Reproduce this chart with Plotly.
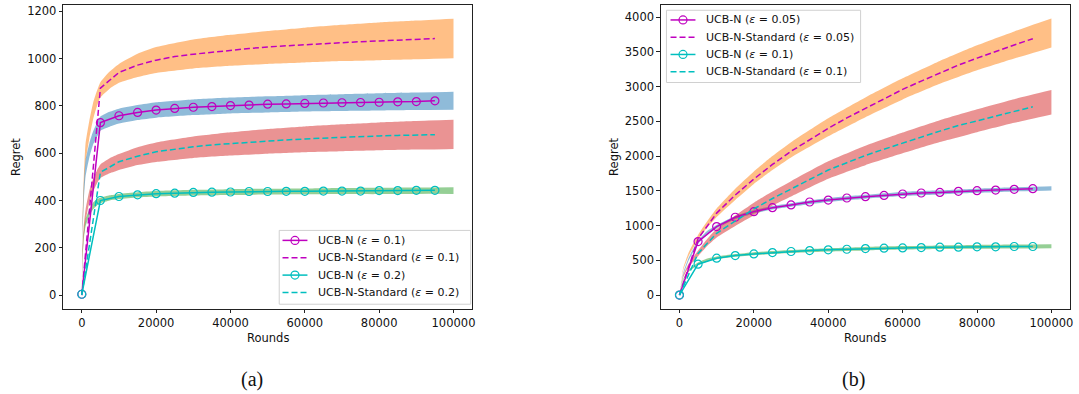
import plotly.graph_objects as go

# ---------------- data ----------------
rounds = [0, 5000, 10000, 15000, 20000, 25000, 30000, 35000, 40000, 45000,
          50000, 55000, 60000, 65000, 70000, 75000, 80000, 85000, 90000, 95000]

# panel (a)
a_ucbn_01 = [4, 729, 758, 772, 782, 789, 794, 797, 801, 803, 807, 808, 810, 812, 813, 814, 815, 817, 818, 821]
a_std_01 = [0, 875, 941, 972, 993, 1008, 1018, 1027, 1035, 1042, 1049, 1054, 1059, 1063, 1067, 1071, 1074, 1078, 1081, 1084]
a_ucbn_02 = [4, 400, 417, 424, 429, 431, 434, 435, 436, 438, 438, 439, 439, 440, 440, 440, 442, 442, 443, 443]
a_std_02 = [0, 519, 564, 587, 606, 617, 627, 635, 641, 647, 652, 656, 660, 664, 667, 670, 673, 675, 677, 678]

a_band_x = [0, 200, 500, 1000, 2000, 3000, 4000, 5000, 7500, 10000, 15000, 20000,
            30000, 40000, 50000, 60000, 70000, 80000, 90000, 100000]
a_orange_lo = [0, 250, 400, 560, 660, 740, 795, 835, 872, 897, 922, 939, 958, 969, 977, 983, 989, 993, 997, 1001]
a_orange_hi = [0, 320, 480, 640, 735, 810, 860, 900, 945, 977, 1020, 1048, 1080, 1100, 1116, 1130, 1142, 1152, 1160, 1168]
a_blue_lo = [0, 220, 390, 500, 580, 635, 665, 695, 712, 725, 740, 750, 761, 768, 772, 776, 778, 780, 782, 783]
a_blue_hi = [0, 290, 460, 570, 640, 690, 725, 755, 775, 788, 803, 815, 827, 835, 840, 845, 849, 853, 856, 859]
a_red_lo = [0, 150, 240, 310, 390, 435, 470, 495, 515, 529, 550, 563, 580, 590, 598, 604, 608, 612, 615, 618]
a_red_hi = [0, 200, 290, 360, 440, 490, 525, 552, 578, 596, 625, 645, 670, 688, 702, 713, 722, 730, 736, 741]
a_green_lo = [0, 150, 230, 290, 335, 362, 378, 388, 400, 406, 413, 417, 421, 423, 425, 426, 427, 427, 428, 428]
a_green_hi = [0, 180, 260, 320, 362, 390, 405, 412, 422, 428, 435, 440, 445, 448, 450, 451, 453, 454, 455, 456]

# panel (b)
b_ucbn_005 = [0, 770, 986, 1120, 1201, 1258, 1297, 1340, 1368, 1397, 1416, 1435, 1455, 1469, 1478, 1493, 1502, 1512, 1522, 1531]
b_std_005 = [0, 810, 1180, 1440, 1670, 1880, 2070, 2240, 2400, 2550, 2690, 2830, 2960, 3080, 3200, 3310, 3410, 3510, 3600, 3690]
b_ucbn_01 = [0, 445, 531, 569, 593, 612, 627, 641, 651, 660, 670, 675, 679, 684, 689, 689, 694, 694, 699, 699]
b_std_01 = [0, 600, 890, 1070, 1240, 1390, 1530, 1670, 1800, 1905, 2010, 2100, 2190, 2275, 2360, 2440, 2510, 2580, 2650, 2710]

b_band_x = [0, 1000, 2500, 5000, 7500, 10000, 15000, 20000, 25000, 30000,
            40000, 50000, 60000, 70000, 80000, 90000, 100000]
b_orange_lo = [0, 355, 565, 795, 975, 1125, 1370, 1600, 1800, 1980, 2285, 2560, 2815, 3040, 3235, 3405, 3565]
b_orange_hi = [0, 385, 615, 865, 1065, 1245, 1530, 1780, 2000, 2200, 2545, 2845, 3120, 3370, 3595, 3795, 3980]
b_red_lo = [0, 255, 405, 560, 710, 830, 995, 1150, 1290, 1420, 1675, 1870, 2040, 2202, 2345, 2480, 2600]
b_red_hi = [0, 285, 455, 640, 810, 950, 1145, 1330, 1490, 1640, 1925, 2150, 2340, 2518, 2675, 2820, 2950]
b_blue_lo = [0, 285, 500, 735, 875, 960, 1090, 1175, 1233, 1273, 1340, 1388, 1425, 1448, 1472, 1492, 1505]
b_blue_hi = [0, 315, 540, 785, 925, 1010, 1140, 1225, 1283, 1323, 1396, 1444, 1485, 1508, 1532, 1552, 1565]
b_green_lo = [0, 208, 335, 432, 485, 515, 550, 573, 590, 605, 627, 643, 655, 663, 667, 671, 675]
b_green_hi = [0, 232, 365, 468, 525, 555, 590, 617, 634, 649, 675, 693, 705, 715, 721, 727, 731]

x_ticks = [0, 20000, 40000, 60000, 80000, 100000]
a_y_ticks = [0, 200, 400, 600, 800, 1000, 1200]
b_y_ticks = [0, 500, 1000, 1500, 2000, 2500, 3000, 3500, 4000]

a_legend_names = ["UCB-N (<i>ε</i> = 0.1)", "UCB-N-Standard (<i>ε</i> = 0.1)",
                  "UCB-N (<i>ε</i> = 0.2)", "UCB-N-Standard (<i>ε</i> = 0.2)"]
b_legend_names = ["UCB-N (<i>ε</i> = 0.05)", "UCB-N-Standard (<i>ε</i> = 0.05)",
                  "UCB-N (<i>ε</i> = 0.1)", "UCB-N-Standard (<i>ε</i> = 0.1)"]

# ---------------- style ----------------
MAG = "#bf00bf"
CYA = "#00bfbf"
ORANGE = "rgba(255,127,14,0.5)"
BLUE = "rgba(31,119,180,0.5)"
RED = "rgba(214,39,40,0.5)"
GREEN = "rgba(44,160,44,0.5)"
FONT = "DejaVu Sans"
FS = 11.5
LFS = 11
DASH = "6px,3px"
W, H = 1079, 394

fig = go.Figure()


def band(x, lo, hi, color, xa, ya):
    fig.add_trace(go.Scatter(x=x, y=lo, mode="lines", line=dict(width=0, shape="spline", smoothing=0.5),
                             xaxis=xa, yaxis=ya, showlegend=False, hoverinfo="skip"))
    fig.add_trace(go.Scatter(x=x, y=hi, mode="lines", line=dict(width=0, shape="spline", smoothing=0.5),
                             fill="tonexty", fillcolor=color,
                             xaxis=xa, yaxis=ya, showlegend=False, hoverinfo="skip"))


def ucbn(y, color, name, xa, ya):
    fig.add_trace(go.Scatter(x=rounds, y=y, mode="lines+markers", name=name, showlegend=False,
                             line=dict(color=color, width=1.5),
                             marker=dict(symbol="circle-open", size=8, color=color, line=dict(width=1.2, color=color)),
                             xaxis=xa, yaxis=ya))


def std(y, color, name, xa, ya):
    fig.add_trace(go.Scatter(x=rounds, y=y, mode="lines", name=name, showlegend=False,
                             line=dict(color=color, width=1.5, dash=DASH),
                             xaxis=xa, yaxis=ya))


# panel (a)
band(a_band_x, a_orange_lo, a_orange_hi, ORANGE, "x", "y")
band(a_band_x, a_blue_lo, a_blue_hi, BLUE, "x", "y")
band(a_band_x, a_red_lo, a_red_hi, RED, "x", "y")
band(a_band_x, a_green_lo, a_green_hi, GREEN, "x", "y")
ucbn(a_ucbn_01, MAG, a_legend_names[0], "x", "y")
std(a_std_01, MAG, a_legend_names[1], "x", "y")
ucbn(a_ucbn_02, CYA, a_legend_names[2], "x", "y")
std(a_std_02, CYA, a_legend_names[3], "x", "y")

# panel (b)
band(b_band_x, b_orange_lo, b_orange_hi, ORANGE, "x2", "y2")
band(b_band_x, b_blue_lo, b_blue_hi, BLUE, "x2", "y2")
band(b_band_x, b_red_lo, b_red_hi, RED, "x2", "y2")
band(b_band_x, b_green_lo, b_green_hi, GREEN, "x2", "y2")
ucbn(b_ucbn_005, MAG, b_legend_names[0], "x2", "y2")
std(b_std_005, MAG, b_legend_names[1], "x2", "y2")
ucbn(b_ucbn_01, CYA, b_legend_names[2], "x2", "y2")
std(b_std_01, CYA, b_legend_names[3], "x2", "y2")

ytop, ybot = 1 - 4 / H, 1 - 308.7 / H

axis_common = dict(showline=True, mirror=True, linecolor="#222", linewidth=1,
                   ticks="outside", ticklen=3.5, tickwidth=1, tickcolor="#222",
                   showgrid=False, zeroline=False, tickformat="d",
                   tickfont=dict(family=FONT, size=FS, color="#111"))

fig.update_layout(
    width=W, height=H,
    margin=dict(l=0, r=0, t=0, b=0),
    paper_bgcolor="white", plot_bgcolor="white",
    showlegend=False,
    xaxis=dict(domain=[63.4 / W, 473.4 / W], range=[-5000, 105000], tickvals=x_ticks, anchor="y", **axis_common),
    yaxis=dict(domain=[ybot, ytop], range=[-58, 1226], tickvals=a_y_ticks, anchor="x", **axis_common),
    xaxis2=dict(domain=[662.7 / W, 1073 / W], range=[-5000, 105000], tickvals=x_ticks, anchor="y2", **axis_common),
    yaxis2=dict(domain=[ybot, ytop], range=[-199, 4175], tickvals=b_y_ticks, anchor="x2", **axis_common),
)

# ---------------- manual legends (pixel layout, paper coords) ----------------
shapes = []
annotations = []


def px(x):
    return x / W


def py(y):
    return 1 - y / H


def legend_box(x0, y0, x1, y1, rows, names, sample_x0):
    shapes.append(dict(type="rect", xref="paper", yref="paper", x0=px(x0), x1=px(x1), y0=py(y1), y1=py(y0),
                       fillcolor="rgba(255,255,255,0.8)", line=dict(color="#d0d0d0", width=1), layer="above"))
    styles = [(MAG, "solid", True), (MAG, DASH, False), (CYA, "solid", True), (CYA, DASH, False)]
    for ry, name, (col, dash, mk) in zip(rows, names, styles):
        sx0, sx1 = sample_x0, sample_x0 + 25
        shapes.append(dict(type="line", xref="paper", yref="paper", x0=px(sx0), x1=px(sx1), y0=py(ry), y1=py(ry),
                           line=dict(color=col, width=1.5, dash=dash), layer="above"))
        if mk:
            cx = (sx0 + sx1) / 2
            shapes.append(dict(type="circle", xref="paper", yref="paper", xsizemode="pixel", ysizemode="pixel",
                               xanchor=px(cx), yanchor=py(ry), x0=-4, x1=4, y0=-4, y1=4,
                               line=dict(color=col, width=1.2), fillcolor="rgba(0,0,0,0)", layer="above"))
        annotations.append(dict(text=name, x=px(sx1 + 8.5), y=py(ry), xref="paper", yref="paper",
                                showarrow=False, xanchor="left", yanchor="middle",
                                font=dict(family=FONT, size=LFS, color="#111")))


legend_box(280, 230, 472, 304, [240, 257.4, 274.8, 292.2], a_legend_names, 283.3)
legend_box(668.3, 9.3, 863, 81.7, [19, 36.3, 53.6, 70.9], b_legend_names, 672.4)

ann_font = dict(family=FONT, size=FS, color="#111")
annotations += [
    dict(text="Rounds", x=px(268.4), y=py(337.7), xref="paper", yref="paper",
         showarrow=False, font=ann_font, xanchor="center", yanchor="middle"),
    dict(text="Rounds", x=px(867.9), y=py(337.7), xref="paper", yref="paper",
         showarrow=False, font=ann_font, xanchor="center", yanchor="middle"),
    dict(text="Regret", x=px(15.5), y=py(156), xref="paper", yref="paper", textangle=-90,
         showarrow=False, font=ann_font, xanchor="center", yanchor="middle"),
    dict(text="Regret", x=px(615), y=py(156), xref="paper", yref="paper", textangle=-90,
         showarrow=False, font=ann_font, xanchor="center", yanchor="middle"),
    dict(text="(a)", x=px(253), y=py(379), xref="paper", yref="paper",
         showarrow=False, font=dict(family="Liberation Serif", size=20, color="#111"),
         xanchor="center", yanchor="middle"),
    dict(text="(b)", x=px(856), y=py(379), xref="paper", yref="paper",
         showarrow=False, font=dict(family="Liberation Serif", size=20, color="#111"),
         xanchor="center", yanchor="middle"),
]
fig.update_layout(shapes=shapes, annotations=annotations)

fig.write_html("out.html", config={"displayModeBar": False},
               post_script="document.body.style.margin='0';")
